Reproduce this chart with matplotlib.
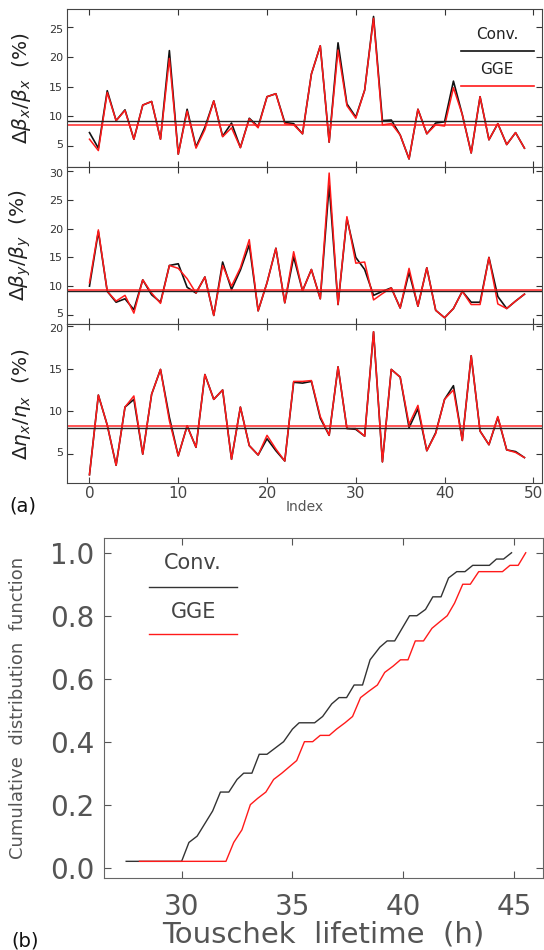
import matplotlib
matplotlib.use("Agg")
import matplotlib.pyplot as plt
import matplotlib.transforms as mtransforms
import numpy as np

plt.rcParams['font.family'] = ['DejaVu Sans']
plt.rcParams['mathtext.fontset'] = 'dejavusans'

# index of the 50 error seeds
index = np.arange(50)

# (a) top: horizontal beta-beating (%)
bx_conv = [7.3, 4.7, 14.3, 9.3, 11.1, 6.2, 11.9, 12.5, 6.2, 21.0,
           3.7, 11.2, 4.9, 8.2, 12.6, 6.7, 8.9, 4.8, 9.7, 8.3,
           13.3, 13.8, 9.0, 8.8, 7.1, 17.1, 21.8, 5.7, 22.3, 12.1,
           9.9, 14.4, 26.7, 9.3, 9.4, 6.9, 2.9, 11.2, 7.1, 8.9,
           9.1, 15.9, 10.3, 3.9, 13.3, 6.1, 8.8, 5.3, 7.3, 4.7]
bx_gge = [6.2, 4.3, 14.0, 9.3, 11.0, 6.2, 11.9, 12.5, 6.2, 19.7,
          3.7, 10.9, 4.7, 7.8, 12.6, 6.6, 8.1, 4.8, 9.6, 8.1,
          13.3, 13.8, 8.8, 8.6, 7.1, 17.1, 21.8, 5.7, 21.1, 11.8,
          9.7, 14.4, 26.4, 8.6, 8.8, 6.9, 2.9, 11.2, 7.1, 8.6,
          8.4, 14.8, 10.3, 3.9, 13.3, 6.1, 8.8, 5.3, 7.3, 4.7]

# (a) middle: vertical beta-beating (%)
by_conv = [10.0, 19.5, 9.1, 7.2, 7.8, 5.9, 11.1, 8.5, 7.2, 13.6,
           13.9, 9.8, 8.8, 11.6, 4.9, 14.2, 9.4, 12.8, 17.2, 5.7,
           10.6, 16.6, 7.1, 15.1, 9.2, 12.9, 7.8, 27.6, 6.8, 21.8,
           15.0, 12.9, 8.4, 9.1, 9.7, 6.2, 12.4, 6.5, 13.2, 5.8,
           4.5, 6.1, 9.1, 7.2, 7.2, 15.0, 8.2, 6.1, 7.4, 8.6]
by_gge = [10.6, 19.8, 9.1, 7.4, 8.4, 5.3, 11.1, 8.8, 7.0, 13.6,
          13.1, 11.3, 8.8, 11.6, 4.9, 13.6, 10.0, 13.2, 18.1, 5.7,
          10.6, 16.6, 7.1, 16.0, 9.2, 12.9, 7.8, 29.7, 6.8, 22.1,
          14.0, 14.2, 7.6, 8.7, 9.7, 6.2, 13.1, 6.5, 13.2, 5.8,
          4.5, 6.1, 9.1, 6.8, 6.8, 15.0, 6.9, 6.1, 7.4, 8.6]

# (a) bottom: horizontal dispersion beating (%)
eta_conv = [2.6, 11.9, 8.4, 3.7, 10.5, 11.4, 5.0, 12.0, 14.9, 9.3,
            4.8, 8.3, 5.8, 14.3, 11.4, 12.5, 4.4, 10.5, 6.0, 4.9,
            6.8, 5.4, 4.2, 13.4, 13.3, 13.5, 9.2, 7.2, 15.2, 8.0,
            7.9, 7.1, 19.3, 4.1, 14.9, 14.0, 8.1, 10.3, 5.4, 7.5,
            11.4, 13.0, 6.6, 16.5, 7.7, 6.1, 9.3, 5.5, 5.3, 4.6]
eta_gge = [2.6, 11.9, 8.4, 3.7, 10.5, 11.8, 5.0, 12.0, 14.9, 8.9,
           4.8, 8.3, 5.8, 14.3, 11.4, 12.5, 4.4, 10.5, 6.0, 4.9,
           7.2, 5.6, 4.2, 13.5, 13.5, 13.6, 9.4, 7.2, 15.2, 8.0,
           8.0, 7.1, 19.3, 4.1, 14.9, 14.0, 8.5, 10.7, 5.4, 7.4,
           11.4, 12.5, 6.6, 16.5, 7.7, 6.1, 9.4, 5.5, 5.2, 4.6]

# average levels drawn as horizontal lines (conv, gge)
bx_avg = [9.2, 8.6]
by_avg = [9.2, 9.25]
eta_avg = [8.0, 8.25]

# (b) cumulative distribution of Touschek lifetime
cdf_conv_t = [27.5, 30.0, 30.33, 30.7, 31.4, 31.75, 32.13, 32.5, 32.8, 33.17,
              33.5, 33.85, 34.6, 35.0, 35.3, 36.0, 36.36, 36.77, 37.1, 37.44,
              37.78, 38.16, 38.5, 38.94, 39.27, 39.61, 40.28, 40.61, 41.0, 41.33,
              41.7, 42.04, 42.41, 42.78, 43.13, 43.88, 44.2, 44.52, 44.88]
cdf_conv_p = [0.02, 0.02, 0.08, 0.10, 0.18, 0.24, 0.24, 0.28, 0.30, 0.30,
              0.36, 0.36, 0.40, 0.44, 0.46, 0.46, 0.48, 0.52, 0.54, 0.54,
              0.58, 0.58, 0.66, 0.70, 0.72, 0.72, 0.80, 0.80, 0.82, 0.86,
              0.86, 0.92, 0.94, 0.94, 0.96, 0.96, 0.98, 0.98, 1.00]
cdf_gge_t = [28.1, 32.0, 32.35, 32.72, 33.1, 33.43, 33.8, 34.15, 34.52, 35.19,
             35.54, 35.91, 36.25, 36.66, 36.99, 37.37, 37.71, 38.07, 38.44, 38.83,
             39.16, 39.54, 39.87, 40.21, 40.54, 40.91, 41.29, 41.63, 41.98, 42.31,
             42.68, 43.02, 43.4, 44.47, 44.81, 45.18, 45.52]
cdf_gge_p = [0.02, 0.02, 0.08, 0.12, 0.20, 0.22, 0.24, 0.28, 0.30, 0.34,
             0.40, 0.40, 0.42, 0.42, 0.44, 0.46, 0.48, 0.54, 0.56, 0.58,
             0.62, 0.64, 0.66, 0.66, 0.72, 0.72, 0.76, 0.78, 0.80, 0.84,
             0.90, 0.90, 0.94, 0.94, 0.96, 0.96, 1.00]

RED = '#ff1a1a'
fig = plt.figure(figsize=(5.44, 9.5), dpi=100)

panels = [
    (bx_conv, bx_gge, bx_avg, r'$\Delta\beta_x/\beta_x$  (%)', (1.6, 27.9), [5, 10, 15, 20, 25]),
    (by_conv, by_gge, by_avg, r'$\Delta\beta_y/\beta_y$  (%)', (3.4, 30.8), [5, 10, 15, 20, 25, 30]),
    (eta_conv, eta_gge, eta_avg, r'$\Delta\eta_x/\eta_x$  (%)', (1.6, 20.2), [5, 10, 15, 20]),
]
bottoms = [0.8245, 0.6589, 0.4913]
heights = [0.1657, 0.1656, 0.1676]

axes = []
for (conv, gge, avg, lab, ylim, yt), b, h in zip(panels, bottoms, heights):
    ax = fig.add_axes([0.1237, b, 0.873, h])
    ax.plot(index, conv, color='#111111', lw=1.2)
    ax.plot(index, gge, color=RED, lw=1.1)
    ax.axhline(avg[0], color='#222222', lw=1.0)
    ax.axhline(avg[1], color=RED, lw=1.3, alpha=0.8)
    ax.set_xlim(-2.5, 51)
    ax.set_ylim(*ylim)
    ax.set_yticks(yt)
    ax.set_xticks([0, 10, 20, 30, 40, 50])
    ax.tick_params(direction='in', top=True, right=True, length=4, labelsize=8,
                   colors='#333333', pad=3)
    ax.tick_params(axis='x', labelbottom=False)
    for s in ax.spines.values():
        s.set_color('#444444')
    ax.set_ylabel(lab, fontsize=14.5, color='#222222')
    ax.yaxis.set_label_coords(-0.072, 0.5)
    axes.append(ax)

# keep the stacked edge labels apart a little
for ax in axes:
    labels = ax.get_yticklabels()
    up = mtransforms.ScaledTranslation(0, 1.5 / 72, fig.dpi_scale_trans)
    down = mtransforms.ScaledTranslation(0, -1.5 / 72, fig.dpi_scale_trans)
    labels[0].set_transform(labels[0].get_transform() + up)
    labels[-1].set_transform(labels[-1].get_transform() + down)

axes[-1].tick_params(axis='x', labelbottom=True, labelsize=11, colors='#444444', pad=2)
axes[-1].set_xlabel('Index', fontsize=10, color='#555555', labelpad=-1)

# legend of (a): text above a line sample
ax0 = axes[0]
ax0.text(0.905, 0.837, 'Conv.', transform=ax0.transAxes, ha='center', va='center',
         fontsize=11, color='#222222')
ax0.plot([0.829, 0.983], [0.735, 0.735], transform=ax0.transAxes, color='#111111', lw=1.2)
ax0.text(0.905, 0.62, 'GGE', transform=ax0.transAxes, ha='center', va='center',
         fontsize=11, color='#222222')
ax0.plot([0.829, 0.983], [0.515, 0.515], transform=ax0.transAxes, color=RED, lw=1.2)

fig.text(0.018, 0.462, '(a)', fontsize=14, color='#111111')

# (b) cumulative distribution function
axb = fig.add_axes([0.1912, 0.0761, 0.807, 0.3573])
axb.plot(cdf_conv_t, cdf_conv_p, color='#333333', lw=1.0)
axb.plot(cdf_gge_t, cdf_gge_p, color=RED, lw=1.0)
axb.set_xlim(26.5, 46.3)
axb.set_ylim(-0.032, 1.046)
axb.set_xticks([30, 35, 40, 45])
axb.set_yticks([0.0, 0.2, 0.4, 0.6, 0.8, 1.0])
axb.set_yticklabels(['0.0', '0.2', '0.4', '0.6', '0.8', '1.0'])
axb.tick_params(direction='in', top=True, right=True, length=5, labelsize=20,
                colors='#555555', pad=7)
axb.tick_params(axis='x', pad=11)
for s in axb.spines.values():
    s.set_color('#666666')
axb.set_xlabel('Touschek  lifetime  (h)', fontsize=21, color='#555555', labelpad=0)
axb.set_ylabel('Cumulative  distribution  function', fontsize=13, color='#555555')
axb.yaxis.set_label_coords(-0.175, 0.5)

axb.text(0.203, 0.927, 'Conv.', transform=axb.transAxes, ha='center', va='center',
         fontsize=15, color='#444444')
axb.plot([0.1025, 0.303], [0.857, 0.857], transform=axb.transAxes, color='#333333', lw=1.0)
axb.text(0.203, 0.783, 'GGE', transform=axb.transAxes, ha='center', va='center',
         fontsize=15, color='#444444')
axb.plot([0.1025, 0.303], [0.718, 0.718], transform=axb.transAxes, color=RED, lw=1.0)

fig.text(0.02, 0.004, '(b)', fontsize=14, color='#111111')

fig.savefig('out.png', dpi=100)
